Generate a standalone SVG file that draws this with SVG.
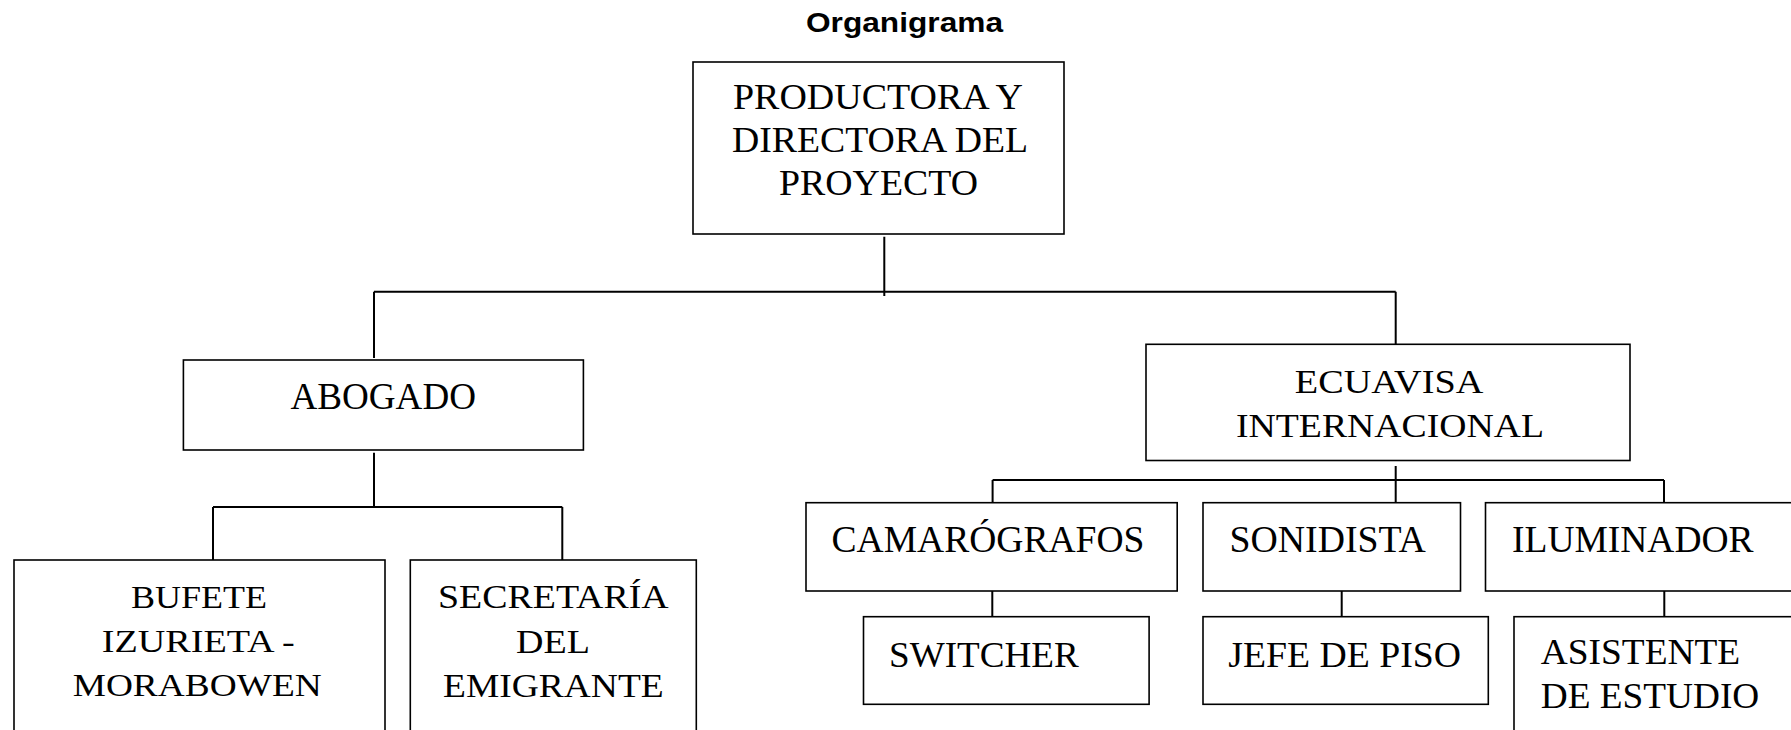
<svg xmlns="http://www.w3.org/2000/svg" width="1791" height="730" viewBox="0 0 1791 730">
<style>
.box{fill:#fff;stroke:#000;stroke-width:1.6}
.ln{stroke:#000;stroke-width:2;fill:none}
.t{font-family:"Liberation Serif","Times New Roman",serif;fill:#000}
.ttl{font-family:"Liberation Sans",Arial,sans-serif;font-weight:bold;fill:#000}
</style>
<rect width="1791" height="730" fill="#fff"/>
<text class="ttl" x="806" y="32" font-size="27" textLength="197" lengthAdjust="spacingAndGlyphs">Organigrama</text>
<g id="connectors">
<path class="ln" d="M884.3 236.7V296M374 291.7H1395.7M374 291.7V358M1395.7 291.7V345M374 452.7V507M213 507H562.3M213 507V561M562.3 507V561M1395.7 466V504M992.6 480H1664M992.6 480V503M1664 480V503M992.3 586V616M1341.7 586.7V617M1664.3 591V617"/>
</g>
<g id="n-productora">
<rect class="box" x="693" y="62" width="371" height="172"/>
<text class="t" font-size="36" x="733" y="109" textLength="290" lengthAdjust="spacingAndGlyphs">PRODUCTORA Y</text>
<text class="t" font-size="36" x="732" y="152" textLength="296" lengthAdjust="spacingAndGlyphs">DIRECTORA DEL</text>
<text class="t" font-size="36" x="779" y="195" textLength="199" lengthAdjust="spacingAndGlyphs">PROYECTO</text>
</g>
<g id="n-abogado">
<rect class="box" x="183.4" y="360" width="400" height="90"/>
<text class="t" font-size="38" x="290.5" y="409.3" textLength="185.5" lengthAdjust="spacingAndGlyphs">ABOGADO</text>
</g>
<g id="n-bufete">
<rect class="box" x="14" y="560" width="371" height="190"/>
<text class="t" font-size="32" x="131" y="608.3" textLength="136" lengthAdjust="spacingAndGlyphs">BUFETE</text>
<text class="t" font-size="32" x="101.7" y="651.5" textLength="193" lengthAdjust="spacingAndGlyphs">IZURIETA -</text>
<text class="t" font-size="32" x="72.7" y="695.5" textLength="249" lengthAdjust="spacingAndGlyphs">MORABOWEN</text>
</g>
<g id="n-secretaria">
<rect class="box" x="410.3" y="560" width="286" height="190"/>
<text class="t" font-size="33" x="438" y="608.3" textLength="230.7" lengthAdjust="spacingAndGlyphs">SECRETARÍA</text>
<text class="t" font-size="33" x="516" y="652.7" textLength="74" lengthAdjust="spacingAndGlyphs">DEL</text>
<text class="t" font-size="33" x="443" y="696.7" textLength="220.7" lengthAdjust="spacingAndGlyphs">EMIGRANTE</text>
</g>
<g id="n-ecuavisa">
<rect class="box" x="1146" y="344.3" width="484" height="116.2"/>
<text class="t" font-size="34" x="1294.8" y="392.7" textLength="188.5" lengthAdjust="spacingAndGlyphs">ECUAVISA</text>
<text class="t" font-size="34" x="1236" y="436.7" textLength="308" lengthAdjust="spacingAndGlyphs">INTERNACIONAL</text>
</g>
<g id="n-camarografos">
<rect class="box" x="806" y="502.7" width="371.2" height="88.3"/>
<text class="t" font-size="37" x="831.5" y="551.5" textLength="313" lengthAdjust="spacingAndGlyphs">CAMARÓGRAFOS</text>
</g>
<g id="n-sonidista">
<rect class="box" x="1203" y="502.7" width="257.5" height="88.3"/>
<text class="t" font-size="37" x="1229.6" y="551.5" textLength="196.2" lengthAdjust="spacingAndGlyphs">SONIDISTA</text>
</g>
<g id="n-iluminador">
<rect class="box" x="1485.5" y="502.7" width="320" height="88.3"/>
<text class="t" font-size="37" x="1512" y="551.5" textLength="241.6" lengthAdjust="spacingAndGlyphs">ILUMINADOR</text>
</g>
<g id="n-switcher">
<rect class="box" x="863.5" y="616.7" width="285.6" height="87.6"/>
<text class="t" font-size="35" x="889" y="666.7" textLength="189.8" lengthAdjust="spacingAndGlyphs">SWITCHER</text>
</g>
<g id="n-jefe">
<rect class="box" x="1203" y="616.7" width="285.3" height="87.6"/>
<text class="t" font-size="35" x="1228.3" y="666.7" textLength="232.7" lengthAdjust="spacingAndGlyphs">JEFE DE PISO</text>
</g>
<g id="n-asistente">
<rect class="box" x="1514" y="616.7" width="300" height="140"/>
<text class="t" font-size="35" x="1540.8" y="664.3" textLength="199.4" lengthAdjust="spacingAndGlyphs">ASISTENTE</text>
<text class="t" font-size="35" x="1540.8" y="708.3" textLength="218.5" lengthAdjust="spacingAndGlyphs">DE ESTUDIO</text>
</g>
</svg>
